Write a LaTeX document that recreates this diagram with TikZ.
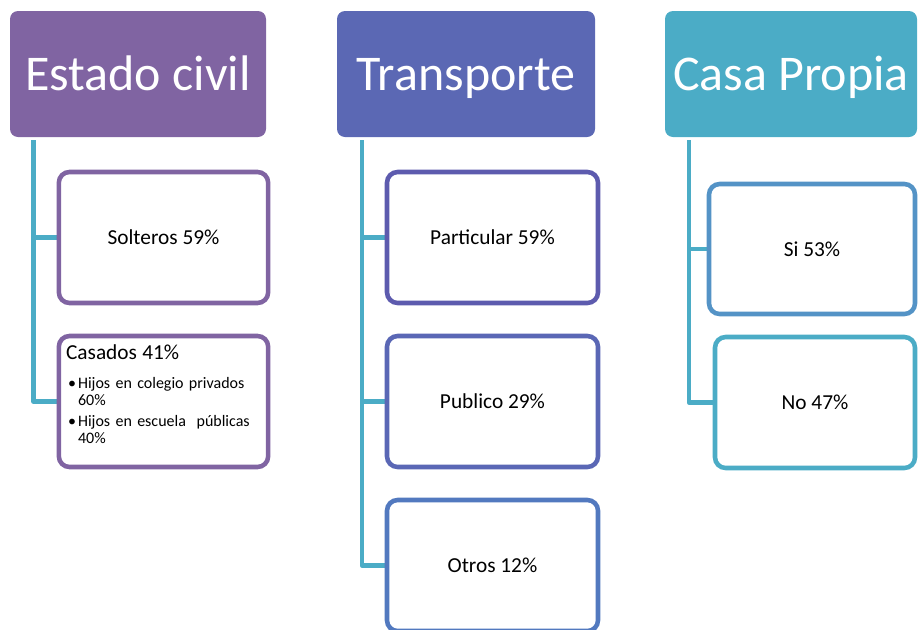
\documentclass[tikz,border=0pt]{standalone}
\usepackage{fontspec}
\setmainfont{Carlito}
\usepackage{xcolor}
\usepackage{tikz}
\usetikzlibrary{positioning, calc, backgrounds}

% Colores de cada columna
\definecolor{moradoEC}{HTML}{8064A2}
\definecolor{azulTR}{HTML}{5B68B4}
\definecolor{bordePart}{HTML}{5D5BAE}
\definecolor{bordePubl}{HTML}{5A67B5}
\definecolor{bordeOtro}{HTML}{5279BF}
\definecolor{cianCP}{HTML}{4BACC6}
\definecolor{bordeSi}{HTML}{5493C6}

\tikzset{
    encabezado/.style={rectangle, rounded corners=6pt, minimum width=192pt, minimum height=94.5pt,
        text=white, font=\fontsize{37.5}{45}\selectfont, text height=30pt, text depth=6pt,
        inner sep=0pt, outer sep=0pt},
    opcion/.style={rectangle, draw, fill=white, line width=3.4pt, rounded corners=8pt,
        minimum width=157pt, minimum height=98.25pt, font=\fontsize{16}{19}\selectfont,
        text height=14pt, text depth=2.8pt, inner sep=0pt, outer sep=0pt},
    enlace/.style={draw=cianCP, line width=3.6pt, line join=round},
}

% Vineta: margen izquierdo de 9pt y el punto colgado a la izquierda
\newcommand{\vineta}[1]{{\leftskip=9pt\rightskip=0pt plus 3em\parindent=0pt\noindent
    \hspace*{-9pt}\makebox[9pt][l]{\hspace{1.5pt}\textbullet}#1\par}}

\begin{document}
\begin{tikzpicture}[x=0.75pt, y=-0.75pt]

    \useasboundingbox (0,0) rectangle (918,629);

    % Encabezados de las tres columnas
    \node[encabezado, fill=moradoEC] (civil) at (138,74) {Estado civil};
    \node[encabezado, fill=azulTR, minimum width=193.5pt] (transp) at (466,74) {Transporte};
    \node[encabezado, fill=cianCP, minimum width=189pt] (casa) at (791,74) {Casa Propia};

    % Puntos de arranque de las lineas verticales
    \coordinate (civilTop) at (33.5,140);
    \coordinate (transpTop) at (362,140);
    \coordinate (casaTop) at (689,140);

    % Estado civil
    \node[opcion, draw=moradoEC] (solt) at (163.5,237.5) {Solteros 59\%};
    \node[opcion, draw=moradoEC] (cas) at (163.5,401.5) {};
    \node[anchor=north west, inner sep=0pt, text width=150pt,
          font=\fontsize{12}{12.75}\selectfont] (casTxt) at ($(cas.north west)+(7,8)$) {%
        \parindent=0pt
        {\fontsize{16}{19}\selectfont Casados 41\%\par}\vspace{9pt}
        \vineta{Hijos en colegio privados\newline 60\%}\vspace{3pt}
        \vineta{Hijos en escuela~ públicas\newline 40\%}};

    % Transporte
    \node[opcion, draw=bordePart, minimum width=158.25pt] (part) at (492.5,237.5) {Particular 59\%};
    \node[opcion, draw=bordePubl, minimum width=158.25pt] (publ) at (492.5,401.5) {Publico 29\%};
    \node[opcion, draw=bordeOtro, minimum width=158.25pt] (otro) at (492.5,565.5) {Otros 12\%};

    % Casa propia
    \node[opcion, draw=bordeSi, minimum width=154.5pt, minimum height=97.5pt] (si) at (812,249) {Si 53\%};
    \node[opcion, draw=cianCP, minimum width=150pt] (no) at (815,402.5) {No 47\%};

    % Lineas de union (detras de las cajas)
    \begin{scope}[on background layer]
        \draw[enlace] (civilTop) |- (solt.west);
        \draw[enlace] (civilTop) |- (cas.west);
        \draw[enlace] (transpTop) |- (part.west);
        \draw[enlace] (transpTop) |- (publ.west);
        \draw[enlace] (transpTop) |- (otro.west);
        \draw[enlace] (casaTop) |- (si.west);
        \draw[enlace] (casaTop) |- (no.west);
    \end{scope}

\end{tikzpicture}
\end{document}
